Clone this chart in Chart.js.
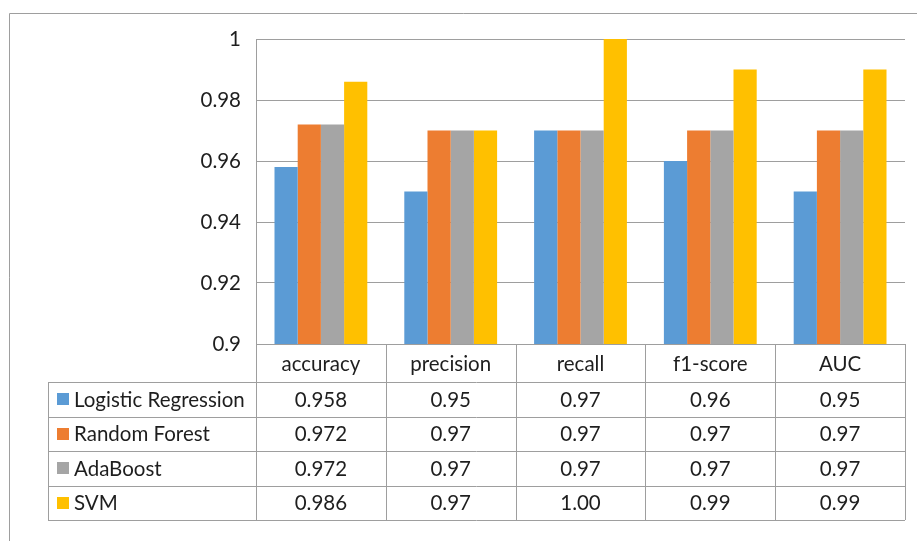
<!DOCTYPE html>
<html>
<head>
<meta charset="utf-8">
<script src="https://cdn.jsdelivr.net/npm/chart.js@4/dist/chart.umd.min.js"></script>
<style>
  html, body { margin: 0; padding: 0; background: #ffffff; }
  #wrap { width: 917px; height: 541px; }
</style>
</head>
<body>
<div id="wrap"><canvas id="c" width="917" height="541"></canvas></div>
<script>
// Metrics shown along the category axis / table header
const metrics = ['accuracy', 'precision', 'recall', 'f1-score', 'AUC'];
// Decimal places each metric is reported with in the table
const metricDecimals = [3, 2, 2, 2, 2];

const modelNames = ['Logistic Regression', 'Random Forest', 'AdaBoost', 'SVM'];
const modelColors = ['#5B9BD5', '#ED7D31', '#A5A5A5', '#FFC000'];

const logisticRegression = [0.958, 0.95, 0.97, 0.96, 0.95];
const randomForest       = [0.972, 0.97, 0.97, 0.97, 0.97];
const adaBoost           = [0.972, 0.97, 0.97, 0.97, 0.97];
const svm                = [0.986, 0.97, 1.00, 0.99, 0.99];
const modelScores = [logisticRegression, randomForest, adaBoost, svm];

// Value axis
const yMin = 0.9, yMax = 1.0, yStep = 0.02;

const FONT = 'Lato, "Open Sans", sans-serif';
const FONT_SIZE = 20.5;
const TEXT = '#1e1e1e';
const LINE = '#9e9e9e';

// Draws the outer frame and the data table under the plot
const dataTablePlugin = {
  id: 'dataTable',
  beforeDraw(chart) {
    const ctx = chart.ctx;
    ctx.save();
    ctx.fillStyle = '#ffffff';
    ctx.fillRect(0, 0, chart.width, chart.height);
    ctx.strokeStyle = LINE;
    ctx.lineWidth = 1;
    ctx.beginPath();
    ctx.moveTo(9.5, chart.height);
    ctx.lineTo(9.5, 13.5);
    ctx.lineTo(chart.width, 13.5);
    ctx.stroke();
    ctx.restore();
  },
  afterDraw(chart) {
    const ctx = chart.ctx;
    const x = chart.scales.x;
    const area = chart.chartArea;
    const catW = (area.right - area.left) / metrics.length;
    const headerH = 38;
    const rowH = 34.5;
    const tableLeft = 48;
    const top = area.bottom;
    const rowsTop = top + headerH;
    const bottom = rowsTop + rowH * modelNames.length;
    const px = v => Math.round(v) + 0.5;

    ctx.save();
    ctx.strokeStyle = LINE;
    ctx.lineWidth = 1;
    ctx.beginPath();
    // header top (axis line)
    ctx.moveTo(area.left, px(top));
    ctx.lineTo(area.right, px(top));
    // row separators
    for (let r = 0; r <= modelNames.length; r++) {
      const yy = px(rowsTop + r * rowH);
      ctx.moveTo(tableLeft, yy);
      ctx.lineTo(area.right, yy);
    }
    // column separators
    for (let c = 0; c <= metrics.length; c++) {
      const xx = px(area.left + c * catW);
      ctx.moveTo(xx, top);
      ctx.lineTo(xx, bottom);
    }
    ctx.moveTo(px(tableLeft), rowsTop);
    ctx.lineTo(px(tableLeft), bottom);
    ctx.stroke();

    ctx.font = FONT_SIZE + 'px ' + FONT;
    ctx.fillStyle = TEXT;
    ctx.textBaseline = 'middle';
    ctx.textAlign = 'center';
    metrics.forEach((m, i) => {
      ctx.fillText(m, x.getPixelForValue(i), top + headerH / 2 + 1);
    });

    modelNames.forEach((name, r) => {
      const cy = rowsTop + r * rowH + rowH / 2 + 1;
      ctx.fillStyle = modelColors[r];
      ctx.fillRect(57, Math.round(cy - 7), 12, 12);
      ctx.fillStyle = TEXT;
      ctx.textAlign = 'left';
      ctx.fillText(name, 74, cy);
      ctx.textAlign = 'center';
      modelScores[r].forEach((v, i) => {
        ctx.fillText(v.toFixed(metricDecimals[i]), x.getPixelForValue(i), cy);
      });
    });
    ctx.restore();
  }
};

new Chart(document.getElementById('c'), {
  type: 'bar',
  data: {
    labels: metrics,
    datasets: modelNames.map((name, i) => ({
      label: name,
      data: modelScores[i],
      backgroundColor: modelColors[i],
      borderWidth: 0,
      categoryPercentage: 0.715,
      barPercentage: 1.0
    }))
  },
  options: {
    responsive: false,
    animation: false,
    layout: { padding: { top: 39, right: 12, left: 0, bottom: 0 } },
    plugins: { legend: { display: false }, tooltip: { enabled: false } },
    scales: {
      x: {
        ticks: { display: false },
        grid: { display: false, drawTicks: false },
        border: { display: false },
        afterFit(scale) { scale.height = 197; }
      },
      y: {
        min: yMin,
        max: yMax,
        ticks: {
          stepSize: yStep,
          padding: 15,
          color: TEXT,
          font: { family: FONT, size: FONT_SIZE },
          callback: v => String(+Number(v).toFixed(2))
        },
        grid: { color: LINE, lineWidth: 1, drawTicks: false },
        border: { display: true, color: LINE, width: 1 },
        afterFit(scale) { scale.width = 256; }
      }
    }
  },
  plugins: [dataTablePlugin]
});
</script>
</body>
</html>
